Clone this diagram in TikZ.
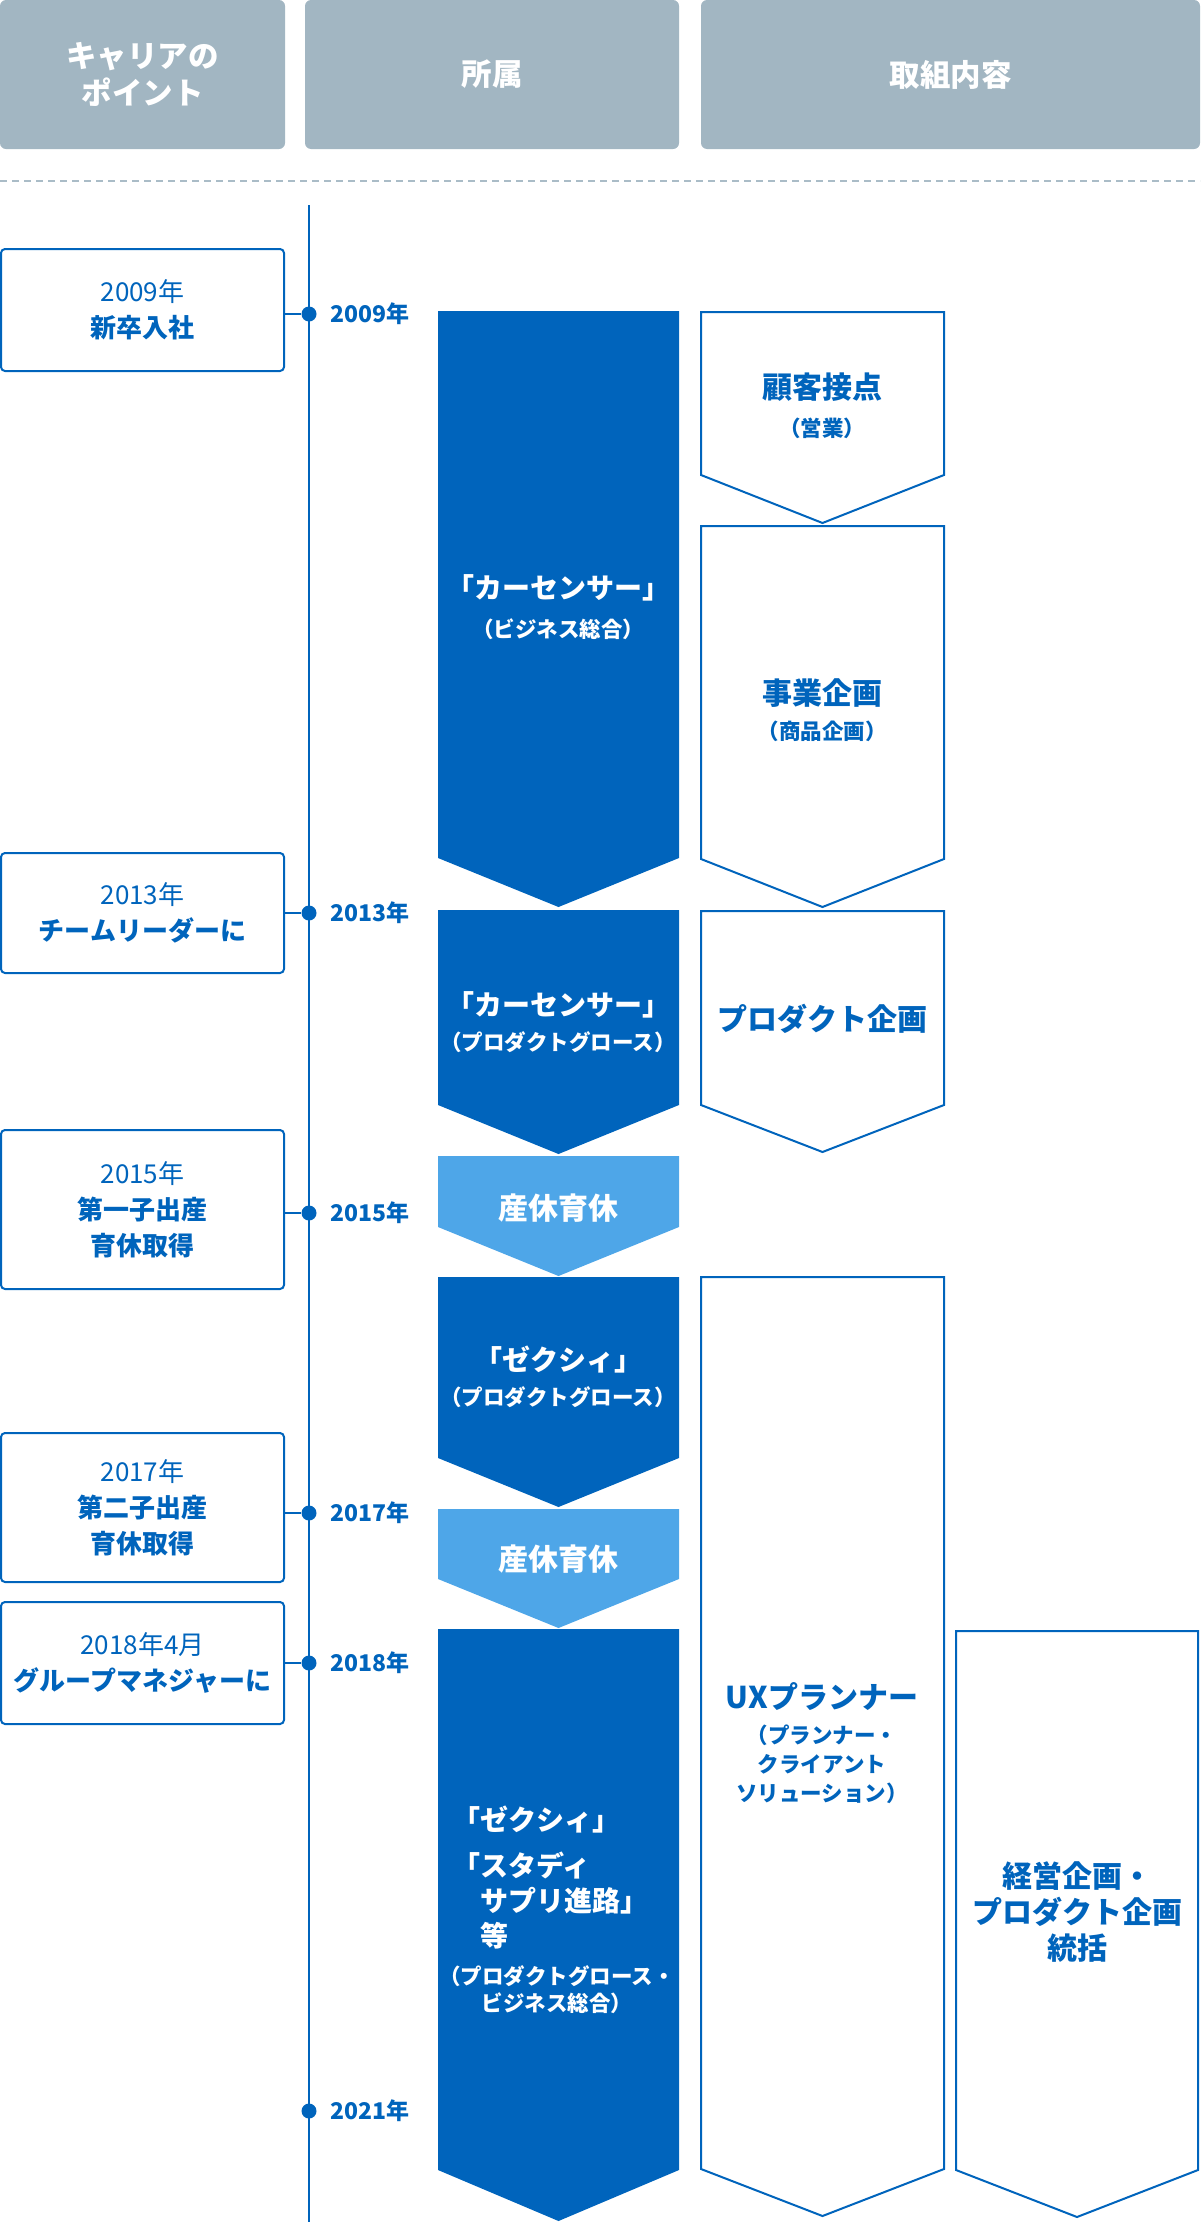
\documentclass[tikz,border=0pt]{standalone}
\usepackage{fontspec}
\setmainfont{Noto Sans CJK JP}
\newcommand\fsz[2]{\fontsize{#1}{#2}\selectfont}
\definecolor{dk}{RGB}{0,100,188}
\definecolor{lt}{RGB}{78,166,232}
\definecolor{hd}{RGB}{162,182,194}
\definecolor{dashcol}{RGB}{170,188,199}
\begin{document}
\begin{tikzpicture}[x=1pt,y=-1pt,
  hdr/.style={fill=hd, rounded corners=6pt, text=white, font=\fsz{30.5}{37}\bfseries, align=center, inner sep=0pt, minimum height=149pt},
  pbox/.style={draw=dk, line width=2pt, rounded corners=4pt, text=dk, font=\fsz{26}{36}, align=center, inner sep=0pt, minimum width=283pt},
  dot/.style={circle, fill=dk, inner sep=0pt, minimum size=15pt},
  yr/.style={anchor=west, text=dk, font=\fsz{23}{28}\bfseries, inner sep=0pt},
  dkshape/.style={fill=dk},
  ltshape/.style={fill=lt},
  olshape/.style={draw=dk, line width=2pt, fill=white, line join=miter},
  wt/.style={text=white, font=\fsz{28}{34}\bfseries, inner sep=0pt},
  ws/.style={text=white, font=\fsz{21.5}{28}\bfseries, inner sep=0pt},
  bt/.style={text=dk, font=\fsz{30}{36}\bfseries, inner sep=0pt, align=center},
  bs/.style={text=dk, font=\fsz{21.5}{29}\bfseries, inner sep=0pt, align=center},
  link/.style={draw=dk, line width=2pt}
]
\useasboundingbox (0,0) rectangle (1200,2222);

% header
\node[hdr, minimum width=285pt] (h1) at (142.5,74.5) {キャリアの\\ポイント};
\node[hdr, minimum width=374pt] (h2) at (492,74.5) {所属};
\node[hdr, minimum width=499pt] (h3) at (950.5,74.5) {取組内容};

\draw[draw=dashcol, line width=2pt, dash pattern=on 7pt off 5pt] (0,181) -- (1200,181);

% timeline
\coordinate (tltop) at (309,205);
\coordinate (tlbot) at (309,2222);
\draw[link, line width=2.5pt] (tltop) -- (tlbot);

% column 2 shapes
\fill[dkshape] (438,311) -- (679,311) -- (679,858) -- (558.5,907) -- (438,858) -- cycle;
\fill[dkshape] (438,910) -- (679,910) -- (679,1105) -- (558.5,1154) -- (438,1105) -- cycle;
\fill[ltshape] (438,1156) -- (679,1156) -- (679,1227) -- (558.5,1276) -- (438,1227) -- cycle;
\fill[dkshape] (438,1277) -- (679,1277) -- (679,1458) -- (558.5,1507) -- (438,1458) -- cycle;
\fill[ltshape] (438,1509) -- (679,1509) -- (679,1579) -- (558.5,1628) -- (438,1579) -- cycle;
\fill[dkshape] (438,1629) -- (679,1629) -- (679,2170) -- (558.5,2221) -- (438,2170) -- cycle;

% column 3 shapes
\draw[olshape] (701,312) -- (944,312) -- (944,475) -- (822.5,523) -- (701,475) -- cycle;
\draw[olshape] (701,526) -- (944,526) -- (944,859) -- (822.5,907) -- (701,859) -- cycle;
\draw[olshape] (701,911) -- (944,911) -- (944,1105) -- (822.5,1152) -- (701,1105) -- cycle;
\draw[olshape] (701,1277) -- (944,1277) -- (944,2169) -- (822.5,2216) -- (701,2169) -- cycle;
\draw[olshape] (956,1631) -- (1198,1631) -- (1198,2170) -- (1077,2217) -- (956,2170) -- cycle;

% left boxes
\node[pbox, minimum height=122pt] (p1) at (142.5,310) {2009年\\{\bfseries 新卒入社}};
\node[pbox, minimum height=120pt] (p2) at (142.5,913) {2013年\\{\bfseries チームリーダーに}};
\node[pbox, minimum height=159pt] (p3) at (142.5,1209.5) {2015年\\{\bfseries 第一子出産}\\{\bfseries 育休取得}};
\node[pbox, minimum height=149pt] (p4) at (142.5,1507.5) {2017年\\{\bfseries 第二子出産}\\{\bfseries 育休取得}};
\node[pbox, minimum height=122pt] (p5) at (142.5,1663) {2018年4月\\{\bfseries グループマネジャーに}};

% dots
\node[dot] (d1) at (309,314) {};
\node[dot] (d2) at (309,913) {};
\node[dot] (d3) at (309,1213) {};
\node[dot] (d4) at (309,1513) {};
\node[dot] (d5) at (309,1663) {};
\node[dot] (d6) at (309,2111) {};

\draw[link] (p1.east |- d1) -- (d1);
\draw[link] (p2.east |- d2) -- (d2);
\draw[link] (p3.east |- d3) -- (d3);
\draw[link] (p4.east |- d4) -- (d4);
\draw[link] (p5.east |- d5) -- (d5);

% year labels
\node[yr] (y1) at (330,314) {2009年};
\node[yr] (y2) at (330,913) {2013年};
\node[yr] (y3) at (330,1213) {2015年};
\node[yr] (y4) at (330,1513) {2017年};
\node[yr] (y5) at (330,1663) {2018年};
\node[yr] (y6) at (330,2111) {2021年};

% column 2 texts
\node[wt] (a1t) at (558,588) {「カーセンサー」};
\node[ws] (a1s) at (558,629) {（ビジネス総合）};
\node[wt] (a2t) at (558,1005) {「カーセンサー」};
\node[ws] (a2s) at (558,1042) {（プロダクトグロース）};
\node[wt, font=\fsz{30}{34}\bfseries] (l1t) at (558,1208) {産休育休};
\node[wt] (a3t) at (558,1360) {「ゼクシィ」};
\node[ws] (a3s) at (558,1397) {（プロダクトグロース）};
\node[wt, font=\fsz{30}{34}\bfseries] (l2t) at (558,1559) {産休育休};
\node[wt, anchor=west] (a5t) at (452,1820) {「ゼクシィ」};
\node[wt, anchor=north west, align=left, font=\fsz{28}{35}\bfseries] (a5b) at (452,1852) {「スタディ\\\hspace*{1em}サプリ進路」\\\hspace*{1em}等};
\node[ws, align=center, font=\fsz{21.5}{27}\bfseries] (a5s) at (557,1990) {（プロダクトグロース・\\ビジネス総合）};

% column 3 texts
\node[bt] (b1t) at (822,387) {顧客接点};
\node[bs] (b1s) at (822,428) {（営業）};
\node[bt] (b2t) at (822,693) {事業企画};
\node[bs] (b2s) at (822,731) {（商品企画）};
\node[bt] (b3t) at (822,1019) {プロダクト企画};
\node[bt] (b4t) at (822,1697) {UXプランナー};
\node[bs] (b4s) at (822,1764) {（プランナー・\\クライアント\\ソリューション）};
\node[bt] (c1t) at (1077,1912) {経営企画・\\プロダクト企画\\統括};
\end{tikzpicture}
\end{document}
